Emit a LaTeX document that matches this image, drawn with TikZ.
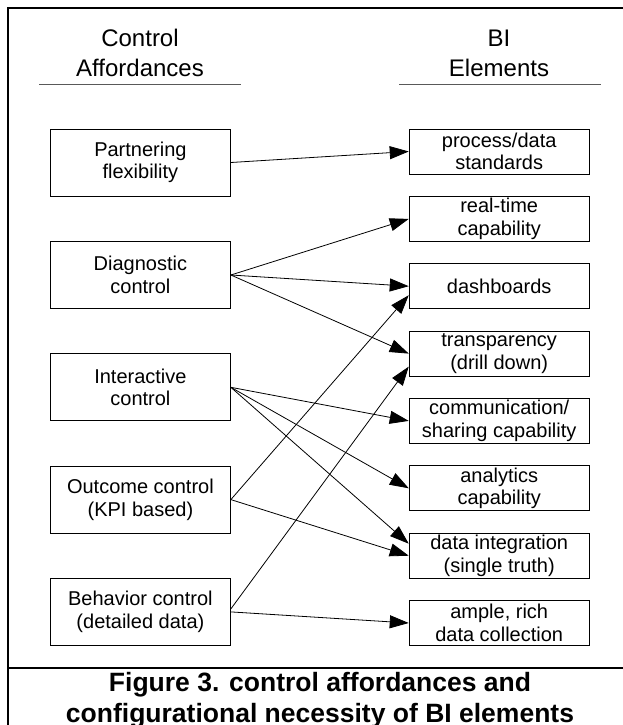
\documentclass[tikz,border=0pt]{standalone}
\usepackage{fontspec}
\setmainfont{Liberation Sans}
\usetikzlibrary{arrows.meta}

\begin{document}
\begin{tikzpicture}[x=1pt,y=-1pt,
  box/.style={draw,line width=0.9pt,minimum width=180pt,inner sep=0pt,align=center,font=\fontsize{20}{22.5}\selectfont},
  ca/.style={box,minimum height=67pt},
  bi/.style={box,minimum height=45pt},
  head/.style={align=center,font=\fontsize{24}{30}\selectfont},
  link/.style={-{Triangle[length=19pt,width=13pt]},line width=0.8pt}]
\useasboundingbox (0,0) rectangle (623,725);

\draw[line width=2pt] (623,8) -- (8,8) -- (8,725);
\draw[line width=2pt] (8,668) -- (623,668);

\node[head] (hca) at (140,53) {Control\\Affordances};
\node[head] (hbi) at (499,53) {BI\\Elements};
\coordinate (ul1) at (39,84);
\coordinate (ur1) at (241,84);
\coordinate (ul2) at (399,84);
\coordinate (ur2) at (601,84);
\draw[gray!70!black,line width=0.9pt] (ul1) -- (ur1);
\draw[gray!70!black,line width=0.9pt] (ul2) -- (ur2);

\node[ca] (pf) at (140.4,162.5) {Partnering\\flexibility};
\node[ca] (dc) at (140.4,275) {Diagnostic\\control};
\node[ca] (ic) at (140.4,387.3) {Interactive\\control};
\node[ca] (oc) at (140.4,499.6) {Outcome control\\(KPI based)};
\node[ca] (bc) at (140.4,611.9) {Behavior control\\(detailed data)};

\node[bi] (pds) at (499.2,151.5) {process/data\\standards};
\node[bi] (rt) at (499.2,218.9) {real-time\\capability};
\node[bi] (db) at (499.2,286.2) {dashboards};
\node[bi] (tr) at (499.2,353.6) {transparency\\(drill down)};
\node[bi] (cs) at (499.2,420.9) {communication/\\sharing capability};
\node[bi] (an) at (499.2,488.3) {analytics\\capability};
\node[bi] (di) at (499.2,555.7) {data integration\\(single truth)};
\node[bi] (am) at (499.2,623) {ample, rich\\data collection};

\draw[link] (pf.east) -- (pds.west);
\draw[link] (dc.east) -- (rt.west);
\draw[link] (dc.east) -- (db.west);
\draw[link] (dc.east) -- (tr.west);
\draw[link] (ic.east) -- (cs.west);
\draw[link] (ic.east) -- (an.west);
\draw[link] (ic.east) -- ([yshift=12pt]di.west);
\draw[link] (oc.east) -- ([yshift=-9pt]db.west);
\draw[link] (oc.east) -- (di.west);
\draw[link] ([yshift=3pt]bc.east) -- ([yshift=-13pt]tr.west);
\draw[link] (bc.east) -- (am.west);

\node[align=center,font=\bfseries\fontsize{26.5}{31}\selectfont] (cap) at (320,700) {Figure 3. control affordances and\\configurational necessity of BI elements};
\end{tikzpicture}
\end{document}
